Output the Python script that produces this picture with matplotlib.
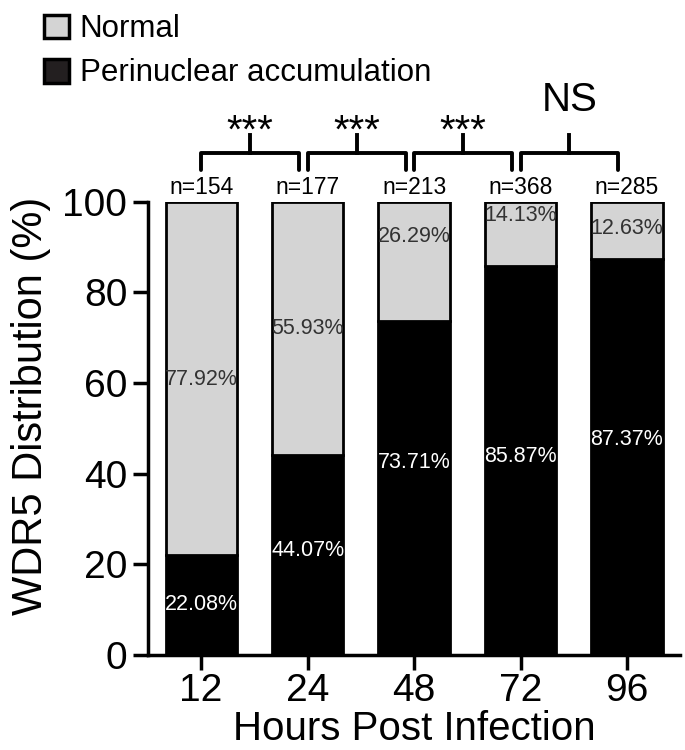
import matplotlib
matplotlib.use('Agg')
import matplotlib.pyplot as plt
from matplotlib.patches import Patch
import numpy as np

plt.rcParams['font.family'] = ['Liberation Sans', 'DejaVu Sans']

hours = ['12', '24', '48', '72', '96']
perinuclear = [22.08, 44.07, 73.71, 85.87, 87.37]
normal = [77.92, 55.93, 26.29, 14.13, 12.63]
n_cells = [154, 177, 213, 368, 285]
signif = ['***', '***', '***', 'NS']

# where the percentage labels sit
black_label_y = [11, 23, 42.5, 43.7, 47.5]
grey_label_y = [60.7, 72, 92.3, 97, 94]

x = np.arange(len(hours))
width = 0.67

fig = plt.figure(figsize=(6.85, 7.5), dpi=100)
ax = fig.add_axes([0.216, 0.127, 0.777, 0.604])

ax.bar(x, perinuclear, width, color='black', edgecolor='black', linewidth=2)
ax.bar(x, normal, width, bottom=perinuclear, color='#d4d4d4', edgecolor='black', linewidth=2)

for i in range(len(x)):
    ax.text(x[i], black_label_y[i], '%.2f%%' % perinuclear[i], ha='center', va='center',
            color='white', fontsize=15.5)
    ax.text(x[i], grey_label_y[i], '%.2f%%' % normal[i], ha='center', va='center',
            color='#333333', fontsize=15.5)
    ax.text(x[i], 103.2, 'n=%d' % n_cells[i], ha='center', va='center', fontsize=16.5, clip_on=False)

# significance brackets between neighbouring time points
for i, lab in enumerate(signif):
    x0 = x[i] + 0.0
    x1 = x[i + 1] - 0.08
    xm = (x0 + x1) / 2
    ax.plot([x0, x0, x1, x1], [107, 110.8, 110.8, 107], color='black', lw=2.8,
            clip_on=False, solid_joinstyle='round', solid_capstyle='round')
    ax.plot([xm, xm], [110.8, 114.8], color='black', lw=2.8, clip_on=False)
    if lab == 'NS':
        ax.text(xm, 122.5, lab, ha='center', va='center', fontsize=29, clip_on=False)
    else:
        ax.text(xm, 115.5, lab, ha='center', va='center', fontsize=29, clip_on=False)

ax.set_xlim(-0.5, 4.5)
ax.set_ylim(0, 100)
ax.set_yticks([0, 20, 40, 60, 80, 100])
ax.set_xticks(x)
ax.set_xticklabels(hours)
ax.tick_params(axis='both', labelsize=28, width=2.5, length=11, direction='out')
ax.tick_params(axis='x', pad=2)
ax.tick_params(axis='y', pad=4)
ax.spines['top'].set_visible(False)
ax.spines['right'].set_visible(False)
ax.spines['left'].set_linewidth(2.5)
ax.spines['bottom'].set_linewidth(2.5)
ax.set_ylabel('WDR5 Distribution (%)', fontsize=30)
ax.yaxis.set_label_coords(-0.182, 0.55)
ax.set_xlabel('Hours Post Infection', fontsize=29, labelpad=1)

handles = [Patch(facecolor='#d4d4d4', edgecolor='black', linewidth=2.5, label='Normal'),
           Patch(facecolor='#231f20', edgecolor='black', linewidth=2.5, label='Perinuclear accumulation')]
fig.legend(handles=handles, loc='upper left', bbox_to_anchor=(0.032, 1.01), frameon=False,
           fontsize=22.5, handlelength=0.8, handleheight=0.8, handletextpad=0.35,
           labelspacing=0.45, borderaxespad=0.3)

fig.savefig('out.png', dpi=100)
